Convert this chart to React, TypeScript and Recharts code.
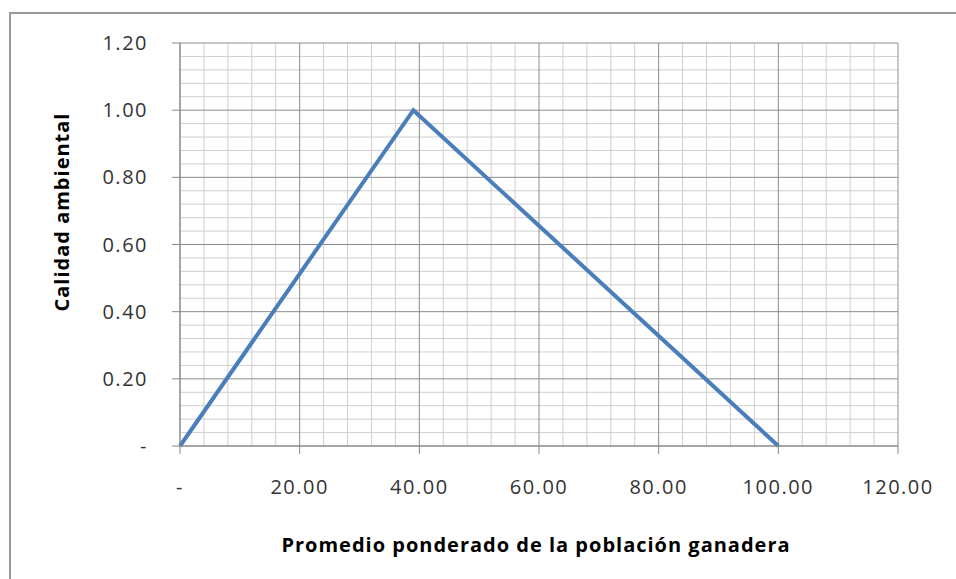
import { LineChart, Line, XAxis, YAxis, CartesianGrid, Label } from "recharts";

// puntos de la curva (promedio ponderado vs calidad)
const poblacion = [0, 39, 100];
const calidad = [0, 1, 0];

const xTicks = [0, 20, 40, 60, 80, 100, 120];
const yTicks = [0, 0.2, 0.4, 0.6, 0.8, 1.0, 1.2];

// lineas secundarias de la cuadricula
const xMinor = [4, 8, 12, 16, 24, 28, 32, 36, 44, 48, 52, 56, 64, 68, 72, 76, 84, 88, 92, 96, 104, 108, 112, 116];
const yMinor = [0.04, 0.08, 0.12, 0.16, 0.24, 0.28, 0.32, 0.36, 0.44, 0.48, 0.52, 0.56, 0.64, 0.68, 0.72, 0.76, 0.84, 0.88, 0.92, 0.96, 1.04, 1.08, 1.12, 1.16];

const data = poblacion.map((p, i) => ({ poblacion: p, calidad: calidad[i] }));

const fmt = (v: number) => (v === 0 ? "-" : v.toFixed(2));

const tickStyle = {
  fontFamily: "'Open Sans', sans-serif",
  fontSize: 20,
  fill: "#333",
  letterSpacing: 1.5,
};

const App = () => {
  return (
    <div style={{ position: "absolute", left: 0, top: 0, width: 956, height: 579, background: "#fff", overflow: "hidden" }}>
      <div
        style={{
          position: "absolute",
          left: 9,
          top: 12,
          width: 1000,
          height: 600,
          borderLeft: "2px solid #9a9a9a",
          borderTop: "2px solid #9a9a9a",
        }}
      />
      <div style={{ position: "absolute", left: 0, top: 0 }}>
        <LineChart
          width={956}
          height={579}
          data={data}
          margin={{ top: 43, right: 58, left: 0, bottom: 43 }}
        >
          <CartesianGrid
            stroke="#cfcfcf"
            verticalValues={xMinor}
            horizontalValues={yMinor}
            syncWithTicks
          />
          <CartesianGrid stroke="#8c8c8c" />
          <XAxis
            dataKey="poblacion"
            type="number"
            domain={[0, 120]}
            ticks={xTicks}
            tickFormatter={fmt}
            interval={0}
            height={90}
            tickSize={8}
            tickMargin={26}
            stroke="#868686"
            tick={tickStyle}
          >
            <Label
              content={() => (
                <text
                  x={536}
                  y={552}
                  textAnchor="middle"
                  fontFamily="'Open Sans', sans-serif"
                  fontWeight="bold"
                  fontSize={20}
                  letterSpacing={1}
                  fill="#000"
                >
                  Promedio ponderado de la población ganadera
                </text>
              )}
            />
          </XAxis>
          <YAxis
            type="number"
            domain={[0, 1.2]}
            ticks={yTicks}
            tickFormatter={fmt}
            interval={0}
            width={180}
            tickSize={8}
            tickMargin={24}
            stroke="#868686"
            tick={tickStyle}
          >
            <Label
              content={() => (
                <text
                  x={69}
                  y={212}
                  transform="rotate(-90 69 212)"
                  textAnchor="middle"
                  fontFamily="'Open Sans', sans-serif"
                  fontWeight="bold"
                  fontSize={20}
                  letterSpacing={1}
                  fill="#000"
                >
                  Calidad ambiental
                </text>
              )}
            />
          </YAxis>
          <Line
            type="linear"
            dataKey="calidad"
            stroke="#4a7ebb"
            strokeWidth={4}
            dot={false}
            isAnimationActive={false}
          />
        </LineChart>
      </div>
    </div>
  );
};

export default App;
